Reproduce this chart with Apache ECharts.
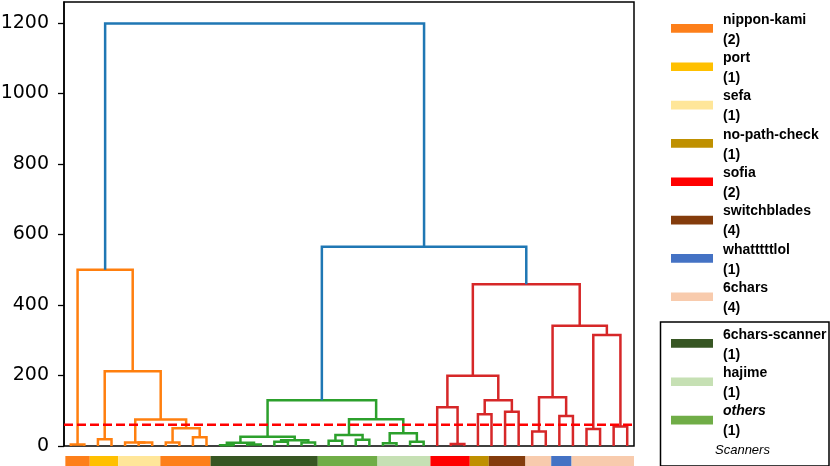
<!DOCTYPE html>
<html><head><meta charset="utf-8">
<script src="https://cdn.jsdelivr.net/npm/echarts@6/dist/echarts.min.js"></script>
<style>html,body{margin:0;padding:0;background:#fff}#c{width:830px;height:466px}</style>
</head><body><div id="c"></div>
<script>
// ---- data ----
const leafCount = 42;
// merges: [leftNodeId, rightNodeId, height]; leaves are 0..41, merge k gets id 42+k
const merges = [
  [0,1,4],[2,3,19],[5,6,10],[4,44,10],[7,8,10],[9,10,25],[46,47,50],[45,48,75],[43,49,212],[42,50,500],
  [11,12,2],[13,14,4],[52,53,9],[15,16,12],[17,18,10],[55,56,16],[54,57,26],[19,20,15],[21,22,18],[59,60,31],
  [23,24,8],[25,26,12],[62,63,36],[61,64,76],[58,65,130],
  [28,29,6],[27,67,110],[30,31,90],[32,33,97],[69,70,130],[68,71,199],[34,35,41],[36,37,85],[73,74,138],
  [38,39,48],[40,41,55],[76,77,315],[75,78,341],[72,79,459],
  [66,80,565],[51,81,1198]
];
const mergeCluster = [
  'o','o','o','o','o','o','o','o','o','o',
  'g','g','g','g','g','g','g','g','g','g','g','g','g','g','g',
  'r','r','r','r','r','r','r','r','r','r','r','r','r','r',
  'b','b'
];
const threshold = 60;
const yTicks = [0,200,400,600,800,1000,1200];
const yMax = 1259;

const barGroups = ['nippon-kami','port','sefa','nippon-kami','6chars-scanner','others','hajime','sofia','no-path-check','switchblades','6chars','whatttttlol','6chars'];
const barStarts = [0.1,1.9,4.0,7.1,10.8,18.7,23.1,27.0,29.9,31.3,34.0,35.9,37.4];
const barEnds   = [1.9,4.0,7.1,10.8,18.7,23.1,27.0,29.9,31.3,34.0,35.9,37.4,42.0];

const legendNames  = ['nippon-kami','port','sefa','no-path-check','sofia','switchblades','whatttttlol','6chars','6chars-scanner','hajime','others'];
const legendCounts = ['(2)','(1)','(1)','(1)','(2)','(4)','(1)','(4)','(1)','(1)','(1)'];
const scannerTitle = 'Scanners';

// ---- styles ----
const linkColor = {o:'#ff7f0e', g:'#2ca02c', r:'#d62728', b:'#1f77b4'};
const groupColor = {
  'nippon-kami':'#fd7f1a','port':'#ffc000','sefa':'#ffe699','no-path-check':'#bf9000',
  'sofia':'#ff0000','switchblades':'#843c0c','whatttttlol':'#4472c4','6chars':'#f8cbad',
  '6chars-scanner':'#375623','hajime':'#c6e0b4','others':'#70ad47'
};
const legendY = [28.3,66.7,105,143.3,181.7,220,258.3,296.7,343.3,381.7,420];

// ---- build dendrogram links ----
const pos = [], hgt = [];
for (let i = 0; i < leafCount; i++) { pos[i] = i + 0.5; hgt[i] = 0; }
const links = merges.map((m, k) => {
  const [a, b, h] = m;
  const id = leafCount + k;
  pos[id] = (pos[a] + pos[b]) / 2; hgt[id] = h;
  return [pos[a], hgt[a], pos[b], hgt[b], h, k];
});

const barData = barGroups.map((g, i) => [barStarts[i], barEnds[i], i]);

const graphics = [];
legendNames.forEach((n, i) => {
  const y = legendY[i];
  graphics.push({type:'rect', left:671, top:y-4.3, shape:{width:42, height:8.7}, style:{fill:groupColor[n]}});
  graphics.push({type:'text', left:723, top:y-15.5, style:{text:n, fill:'#000',
    font:(n==='others'?'italic ':'')+'bold 14px "Liberation Sans"'}});
  graphics.push({type:'text', left:723, top:y+4.5, style:{text:legendCounts[i], fill:'#000',
    font:'bold 14px "Liberation Sans"'}});
});
graphics.push({type:'rect', left:658, top:319.5, shape:{width:168.5, height:144}, style:{fill:null, stroke:'#000', lineWidth:1.5}});
graphics.push({type:'text', left:715, top:444, style:{text:scannerTitle, fill:'#000', font:'italic 13px "Liberation Sans"'}});

const chart = echarts.init(document.getElementById('c'), null, {renderer:'canvas'});
chart.setOption({
  animation:false,
  grid:[
    {left:64, top:2, width:570, height:444, show:true, borderColor:'#000', borderWidth:1.5, backgroundColor:'transparent', containLabel:false, outerBoundsMode:'none'},
    {left:64, top:456, width:570, height:10, containLabel:false, outerBoundsMode:'none'}
  ],
  xAxis:[
    {type:'value', gridIndex:0, min:0, max:leafCount, show:true, axisLine:{show:false}, axisTick:{show:false}, axisLabel:{show:false}, splitLine:{show:false}},
    {type:'value', gridIndex:1, min:0, max:leafCount, show:false}
  ],
  yAxis:[
    {type:'value', gridIndex:0, min:0, max:yMax, interval:200,
     axisLine:{show:true, lineStyle:{color:'#000', width:1.5}},
     axisTick:{show:true, length:6, customValues:yTicks, lineStyle:{color:'#000', width:1.3}},
     axisLabel:{customValues:yTicks, margin:15, color:'#000', fontSize:19, fontFamily:'DejaVu Sans', formatter:(v)=>String(v)},
     splitLine:{show:false}},
    {type:'value', gridIndex:1, min:0, max:1, show:false}
  ],
  series:[
    {type:'custom', xAxisIndex:0, yAxisIndex:0, data:links, encode:{x:[0,2], y:[1,3,4]}, clip:false,
     renderItem:(params, api) => {
       const xl=api.value(0), hl=api.value(1), xr=api.value(2), hr=api.value(3), h=api.value(4), k=api.value(5);
       return {type:'polyline', shape:{points:[api.coord([xl,hl]),api.coord([xl,h]),api.coord([xr,h]),api.coord([xr,hr])]},
         style:{stroke:linkColor[mergeCluster[k]], lineWidth:2.5, fill:null}};
     }},
    {type:'line', xAxisIndex:0, yAxisIndex:0, data:[[0,threshold],[leafCount,threshold]], symbol:'none',
     lineStyle:{color:'#ff0000', width:2.5, type:[9,4]}, z:5},
    {type:'custom', xAxisIndex:1, yAxisIndex:1, data:barData, encode:{x:[0,1]},
     renderItem:(params, api) => {
       const p0 = api.coord([api.value(0), 1]), p1 = api.coord([api.value(1), 0]);
       return {type:'rect', shape:{x:p0[0], y:p0[1], width:p1[0]-p0[0], height:p1[1]-p0[1]},
         style:{fill:groupColor[barGroups[api.value(2)]]}};
     }}
  ],
  graphic:graphics
});
</script></body></html>
